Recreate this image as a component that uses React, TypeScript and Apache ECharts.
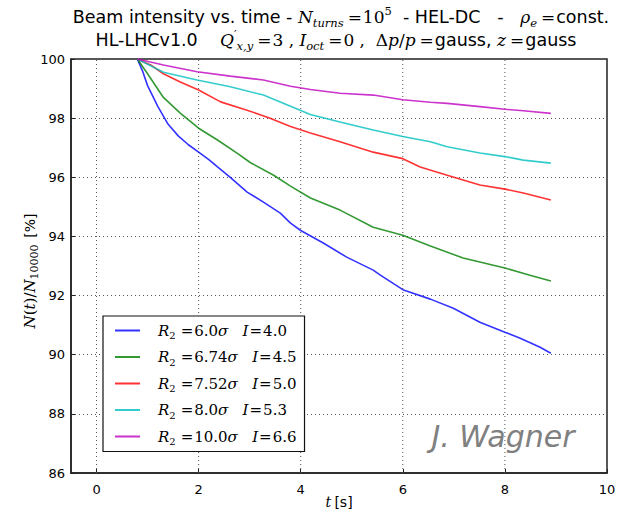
import React, { useEffect, useRef } from "react";
import * as echarts from "echarts";

const xTicks = [0, 2, 4, 6, 8, 10];
const xGridValues = [0, 2, 4, 6, 8];
const r2Labels = ["6.0", "6.74", "7.52", "8.0", "10.0"];
const iLabels = ["4.0", "4.5", "5.0", "5.3", "6.6"];
const seriesNames = r2Labels.map((r, k) => `R2=${r}σ I=${iLabels[k]}`);
const colors = ["#0000ff", "#008000", "#ff0000", "#00bfbf", "#bf00bf"];

const blue: [number, number][] = [
  [0.8, 100], [0.9, 99.6], [1.0, 99.1], [1.2, 98.4], [1.4, 97.8], [1.6, 97.4], [1.8, 97.1],
  [2.0, 96.85], [2.2, 96.6], [2.37, 96.35], [2.62, 96.0], [2.95, 95.5], [3.27, 95.16],
  [3.6, 94.79], [3.8, 94.45], [4.0, 94.2], [4.45, 93.77], [4.9, 93.3], [5.42, 92.86],
  [5.56, 92.69], [6.0, 92.2], [6.54, 91.88], [6.99, 91.57], [7.51, 91.1], [8.0, 90.76],
  [8.3, 90.56], [8.69, 90.25], [8.9, 90.05],
];
const green: [number, number][] = [
  [0.8, 100], [1.0, 99.5], [1.31, 98.7], [1.64, 98.17], [2.0, 97.66], [2.37, 97.26],
  [2.76, 96.81], [3.01, 96.5], [3.47, 96.07], [3.8, 95.7], [4.19, 95.3], [4.77, 94.89],
  [5.42, 94.31], [6.0, 94.04], [6.54, 93.68], [7.18, 93.27], [8.0, 92.93], [8.49, 92.69],
  [8.9, 92.49],
];
const red: [number, number][] = [
  [0.8, 100], [1.06, 99.8], [1.31, 99.5], [1.64, 99.22], [2.0, 98.95], [2.43, 98.55],
  [2.95, 98.27], [3.4, 98.0], [3.8, 97.72], [4.19, 97.5], [4.77, 97.2], [5.42, 96.85],
  [6.0, 96.63], [6.34, 96.35], [6.87, 96.07], [7.51, 95.74], [8.0, 95.6], [8.36, 95.47],
  [8.9, 95.23],
];
const cyan: [number, number][] = [
  [0.8, 100], [1.31, 99.55], [1.97, 99.29], [2.62, 99.06], [3.27, 98.78], [3.8, 98.4],
  [4.19, 98.12], [4.77, 97.87], [5.42, 97.6], [6.0, 97.38], [6.54, 97.2], [6.87, 97.03],
  [7.51, 96.82], [8.0, 96.7], [8.36, 96.58], [8.9, 96.48],
];
const magenta: [number, number][] = [
  [0.8, 100], [1.31, 99.8], [1.97, 99.57], [2.62, 99.42], [3.27, 99.29], [3.8, 99.08],
  [4.19, 98.97], [4.77, 98.84], [5.42, 98.78], [6.0, 98.62], [6.54, 98.54], [6.87, 98.5],
  [7.51, 98.39], [8.0, 98.3], [8.36, 98.25], [8.9, 98.16],
];
const allData = [blue, green, red, cyan, magenta];

const SERIF = "'DejaVu Serif', 'Liberation Serif', serif";
const SANS = "'DejaVu Sans', sans-serif";
const Y_MIN = 86;
const Y_MAX = 100;

export default function App() {
  const ref = useRef<HTMLDivElement>(null);
  useEffect(() => {
    document.body.style.margin = "0";
    const chart = echarts.init(ref.current!, null, { renderer: "svg" });
    const gridLine = { color: "#555", type: [1, 3] as any, width: 1 };
    const gridSeries: any[] = xGridValues.map((v) => ({
      name: `grid-${v}`,
      type: "line",
      data: [[v, Y_MIN], [v, Y_MAX]],
      showSymbol: false,
      symbol: "none",
      silent: true,
      z: 1,
      lineStyle: gridLine,
      itemStyle: { color: "#555" },
    }));
    const dataSeries: any[] = allData.map((d, k) => ({
      name: seriesNames[k],
      type: "line",
      data: d,
      showSymbol: false,
      symbol: "none",
      lineStyle: { color: colors[k], width: 1.6, opacity: 0.8 },
      itemStyle: { color: colors[k], opacity: 0.8 },
      z: 3,
    }));
    const baseMath = { fontFamily: SERIF, fontSize: 17, color: "#000", lineHeight: 24 };
    const titleRich = {
      n: { fontFamily: SANS, fontSize: 17.5, color: "#000", lineHeight: 24 },
      m: { ...baseMath, fontStyle: "italic" },
      r: { ...baseMath },
      eq: { ...baseMath, padding: [0, 1, 0, 4] },
      sub: { fontFamily: SERIF, fontStyle: "italic", fontSize: 11.5, color: "#000", verticalAlign: "bottom" },
      sup: { fontFamily: SERIF, fontSize: 11.5, color: "#000", verticalAlign: "top" },
    };
    chart.setOption({
      animation: false,
      backgroundColor: "#fff",
      grid: {
        left: 71, right: 10, top: 59, bottom: 39, show: true, borderColor: "#222", borderWidth: 1.5,
        containLabel: false, outerBoundsMode: "none",
      },
      xAxis: {
        type: "value",
        min: -0.5,
        max: 10,
        axisLine: { show: true, onZero: false, lineStyle: { color: "#222", width: 1.5 } },
        axisTick: { show: true, inside: true, length: 4, customValues: xTicks, lineStyle: { color: "#222" } },
        axisLabel: { customValues: xTicks, color: "#000", fontFamily: SANS, fontSize: 13, margin: 10 },
        splitLine: { show: false },
        name: "{i|t} {n|[s]}",
        nameLocation: "middle",
        nameMoveOverlap: false,
        nameGap: 22,
        nameTextStyle: {
          rich: {
            i: { fontFamily: SERIF, fontStyle: "italic", fontSize: 14, color: "#000" },
            n: { fontFamily: SANS, fontSize: 14, color: "#000" },
          },
        },
      },
      yAxis: {
        type: "value",
        min: Y_MIN,
        max: Y_MAX,
        interval: 2,
        axisLine: { show: true, onZero: false, lineStyle: { color: "#222", width: 1.5 } },
        axisTick: { show: true, inside: true, length: 4, lineStyle: { color: "#222" } },
        axisLabel: { color: "#000", fontFamily: SANS, fontSize: 13, margin: 6 },
        splitLine: { show: true, lineStyle: gridLine },
        name: "{i|N}{r|(}{i|t}{r|)/}{i|N}{s|10000}  {n|[%]}",
        nameLocation: "middle",
        nameRotate: 90,
        nameMoveOverlap: false,
        nameGap: 31,
        nameTextStyle: {
          padding: [0, 10, 0, 0],
          rich: {
            i: { fontFamily: SERIF, fontStyle: "italic", fontSize: 15, color: "#000", lineHeight: 20 },
            r: { fontFamily: SERIF, fontSize: 15, color: "#000", lineHeight: 20 },
            s: { fontFamily: SERIF, fontSize: 11, color: "#000", verticalAlign: "bottom" },
            n: { fontFamily: SANS, fontSize: 14, color: "#000", lineHeight: 20 },
          },
        },
      },
      legend: {
        orient: "vertical",
        left: 103,
        top: 316,
        itemWidth: 25,
        itemHeight: 14,
        itemGap: 9,
        padding: [7, 8, 5, 12],
        backgroundColor: "#fff",
        borderColor: "#111",
        borderWidth: 1.2,
        borderRadius: 0,
        icon: "path://M0,6 L25,6 L25,8 L0,8 Z",
        data: seriesNames,
        formatter: (name: string) => {
          const k = seriesNames.indexOf(name);
          return `{sp|}{i|R}{s|2}{eq|=}{r|${r2Labels[k]}}{i|σ}{r|   }{i|I}{eq2|=}{r|${iLabels[k]}}`;
        },
        textStyle: {
          rich: {
            sp: { width: 13 },
            i: { fontFamily: SERIF, fontStyle: "italic", fontSize: 15, color: "#000", lineHeight: 20 },
            r: { fontFamily: SERIF, fontSize: 15, color: "#000", lineHeight: 20 },
            eq: { fontFamily: SERIF, fontSize: 15, color: "#000", lineHeight: 20, padding: [0, 1, 0, 5] },
            eq2: { fontFamily: SERIF, fontSize: 15, color: "#000", lineHeight: 20, padding: [0, 1, 0, 1] },
            s: { fontFamily: SERIF, fontSize: 10, color: "#000", verticalAlign: "bottom", lineHeight: 14 },
          },
        },
      },
      graphic: [
        {
          type: "text",
          x: 341,
          y: 17,
          style: {
            text: "{n|Beam intensity vs. time - }{m|N}{sub|turns}{eq|=}{r|10}{sup|5}{n|  - HEL-DC   -   }{m|ρ}{sub|e}{eq|=}{n|const.}",
            rich: titleRich,
            align: "center",
            verticalAlign: "middle",
          },
        },
        {
          type: "text",
          x: 336,
          y: 40,
          style: {
            text: "{n|HL-LHCv1.0    }{m|Q}{sup|′}{sub|x,y}{eq|=}{r|3 , }{m|I}{sub|oct}{eq|=}{r|0 ,  Δ}{m|p}{r|/}{m|p}{eq|=}{n|gauss, }{m|z}{eq|=}{n|gauss}",
            rich: titleRich,
            align: "center",
            verticalAlign: "middle",
          },
        },
        {
          type: "text",
          x: 503,
          y: 436,
          z: 10,
          style: {
            text: "J. Wagner",
            fontFamily: SANS,
            fontStyle: "italic",
            fontSize: 30,
            fill: "#808080",
            align: "center",
            verticalAlign: "middle",
          },
        },
      ],
      series: [...gridSeries, ...dataSeries],
    });
    return () => chart.dispose();
  }, []);
  return <div ref={ref} style={{ width: 617, height: 512 }} />;
}
